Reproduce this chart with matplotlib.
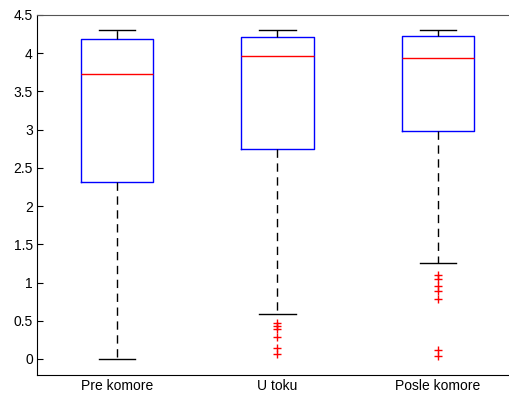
import matplotlib
matplotlib.use("Agg")
import matplotlib.pyplot as plt

labels = ["Pre komore", "U toku", "Posle komore"]
med = [3.73, 3.97, 3.94]
q1 = [2.31, 2.75, 2.98]
q3 = [4.18, 4.21, 4.23]
whislo = [0.00, 0.59, 1.25]
whishi = [4.30, 4.30, 4.30]
fliers = [
    [],
    [0.47, 0.43, 0.39, 0.29, 0.14, 0.07],
    [1.10, 1.04, 0.95, 0.89, 0.78, 0.12, 0.04],
]

stats = []
for i in range(len(labels)):
    stats.append(dict(label=labels[i], med=med[i], q1=q1[i], q3=q3[i],
                      whislo=whislo[i], whishi=whishi[i], fliers=fliers[i]))

plt.rcParams['font.family'] = ['Liberation Sans', 'DejaVu Sans']
fig = plt.figure(figsize=(5.10, 3.99), dpi=100)
ax = fig.add_axes([37/510, 24/399, 481/510, 360/399])

ax.bxp(stats, positions=[1, 2, 3], widths=0.45, capwidths=0.225,
       boxprops=dict(color='#0000ff', linewidth=1.0),
       medianprops=dict(color='#ff0000', linewidth=1.0),
       whiskerprops=dict(color='black', linestyle=(0, (6, 4)), linewidth=1.0),
       capprops=dict(color='black', linewidth=1.0),
       flierprops=dict(marker='+', markeredgecolor='#ff0000', markersize=6,
                       linestyle='none', markeredgewidth=1.0))

ax.set_xlim(0.5, 3.5)
ax.set_ylim(-0.21, 4.5)
ax.set_yticks([0, 0.5, 1, 1.5, 2, 2.5, 3, 3.5, 4, 4.5])
ax.set_yticklabels(["0", "0.5", "1", "1.5", "2", "2.5", "3", "3.5", "4", "4.5"])
ax.set_xticks([1, 2, 3])
ax.set_xticklabels(labels)
ax.tick_params(axis='y', direction='in', length=4, labelsize=10, pad=3)
ax.tick_params(axis='x', length=0, labelsize=10, pad=3)
ax.spines['top'].set_color('#555555')
ax.spines['right'].set_visible(False)

fig.savefig("out.png", dpi=100)
